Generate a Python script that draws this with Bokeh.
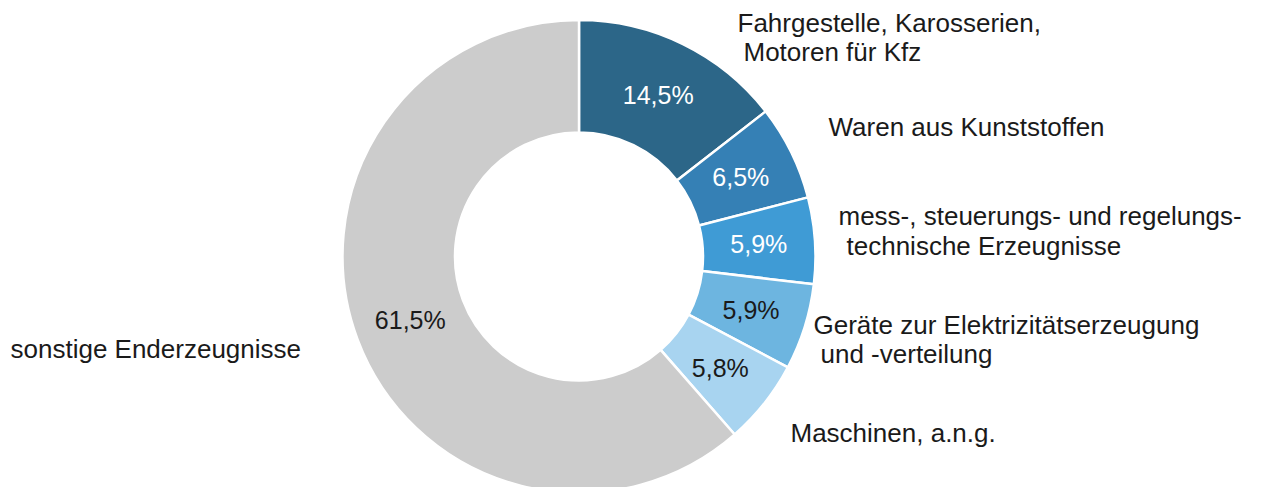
import math
from bokeh.plotting import figure
from bokeh.models import Range1d, ColumnDataSource
from bokeh.core.properties import value
from bokeh.embed import file_html
from bokeh.resources import INLINE

# ---- data ----
categories = [
    "Fahrgestelle, Karosserien,\nMotoren für Kfz",
    "Waren aus Kunststoffen",
    "mess-, steuerungs- und regelungs-\ntechnische Erzeugnisse",
    "Geräte zur Elektrizitätserzeugung\nund -verteilung",
    "Maschinen, a.n.g.",
    "sonstige Enderzeugnisse",
]
shares = [14.5, 6.5, 5.9, 5.9, 5.8, 61.5]
share_labels = ["14,5%", "6,5%", "5,9%", "5,9%", "5,8%", "61,5%"]

# ---- style / layout ----
colors = ["#2c6688", "#3580b5", "#3f9bd5", "#6db5e0", "#a8d4f0", "#cccccc"]
pct_colors = ["white", "white", "white", "#1a1a1a", "#1a1a1a", "#1a1a1a"]
FONT = "Liberation Sans"
W, H = 1250, 487
PAGE_H = 495
cx, cy_page = 578.5, 256
r_out, r_in = 236.5, 124
# label anchors (image px): per line (x, baseline y)
label_lines = [
    [(737, 22), (743, 51)],
    [(828, 126)],
    [(838, 215), (846, 245)],
    [(813, 324), (820, 353)],
    [(790, 432)],
    [(10, 348)],
]

def py(y_page):
    return PAGE_H - y_page

cy = py(cy_page)

p = figure(width=W, height=H, x_range=Range1d(0, W), y_range=Range1d(PAGE_H - H, PAGE_H),
           output_backend="svg", toolbar_location=None, min_border=0)
p.axis.visible = False
p.grid.visible = False
p.outline_line_color = None
p.background_fill_color = "white"
p.border_fill_color = "white"

total = sum(shares)
starts, ends, mids = [], [], []
cum = 0.0
for s in shares:
    a0 = math.pi / 2 - 2 * math.pi * cum / total
    cum += s
    a1 = math.pi / 2 - 2 * math.pi * cum / total
    starts.append(a0)
    ends.append(a1)
    mids.append((a0 + a1) / 2)

src = ColumnDataSource(dict(start=starts, end=ends, color=colors))
p.annular_wedge(x=cx, y=cy, inner_radius=r_in, outer_radius=r_out,
                start_angle="start", end_angle="end", direction="clock",
                fill_color="color", line_color="white", line_width=2.5, source=src)

r_mid = (r_in + r_out) / 2
px = [cx + r_mid * math.cos(a) for a in mids]
pyy = [cy + r_mid * math.sin(a) for a in mids]
p.text(x=px, y=pyy, text=share_labels, text_color=pct_colors,
       text_font=value(FONT), text_font_size="25px",
       text_align="center", text_baseline="middle")

lx, ly, lt = [], [], []
for cat, lines in zip(categories, label_lines):
    for txt, (x, yb) in zip(cat.split("\n"), lines):
        lx.append(x)
        ly.append(py(yb))
        lt.append(txt)
p.text(x=lx, y=ly, text=lt, text_color="#1a1a1a", text_font=value(FONT),
       text_font_size="26px", text_align="left", text_baseline="alphabetic")

open("out.html", "w").write(file_html(p, INLINE))
